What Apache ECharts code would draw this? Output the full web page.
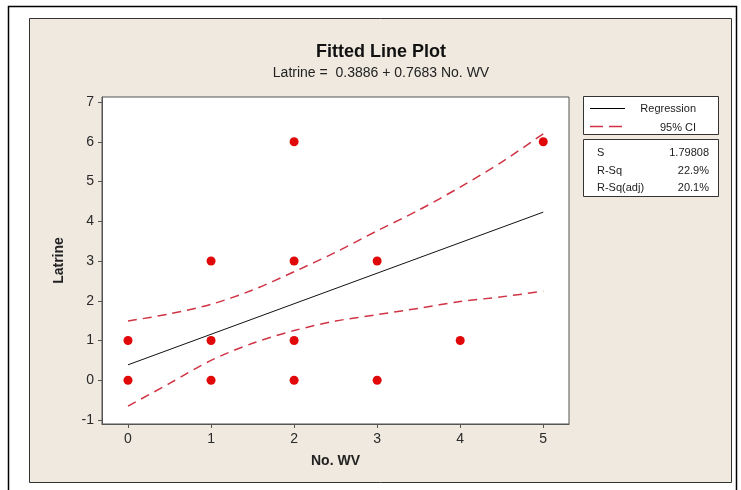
<!DOCTYPE html>
<html>
<head>
<meta charset="utf-8">
<script src="https://cdn.jsdelivr.net/npm/echarts@6/dist/echarts.min.js"></script>
<style>
html,body{margin:0;padding:0;background:#fff;}
#chart{width:741px;height:490px;}
</style>
</head>
<body>
<div id="chart"></div>
<script>
// ---- data ----
const pointsX = [0, 0, 1, 1, 1, 2, 2, 2, 2, 3, 3, 4, 5];
const pointsY = [0, 1, 0, 1, 3, 0, 1, 3, 6, 0, 3, 1, 6];
const fitX = [0, 5];
const fitY = [0.3886, 4.23];
const ciX = [0, 0.5, 1, 1.5, 2, 2.5, 3, 3.5, 4, 4.5, 5];
const ciUpper = [1.49, 1.67, 1.91, 2.27, 2.73, 3.22, 3.76, 4.28, 4.86, 5.49, 6.20];
const ciLower = [-0.65, -0.08, 0.50, 0.93, 1.25, 1.49, 1.65, 1.81, 1.98, 2.10, 2.24];
const xTicks = [0, 1, 2, 3, 4, 5];
const yTicks = [-1, 0, 1, 2, 3, 4, 5, 6, 7];
const legendNames = ['Regression', '95% CI'];
const statLabels = ['S', 'R-Sq', 'R-Sq(adj)'];
const statValues = ['1.79808', '22.9%', '20.1%'];
const titleText = 'Fitted Line Plot';
const subtitleText = 'Latrine =  0.3886 + 0.7683 No. WV';

const FONT = 'Liberation Sans, Arial, sans-serif';
const RED = '#e00808';
const CI_RED = '#cf3344';

const chart = echarts.init(document.getElementById('chart'), null, {renderer: 'canvas'});

const zip = (a, b) => a.map((v, i) => [v, b[i]]);

const graphics = [
  // outer frame
  {type: 'rect', shape: {x: 8.5, y: 6.5, width: 728, height: 500}, style: {fill: '#fff', stroke: '#000', lineWidth: 1.5}, z: -10, silent: true},
  // beige panel
  {type: 'rect', shape: {x: 29.5, y: 18.5, width: 702, height: 464}, style: {fill: '#efe9e0', stroke: '#333', lineWidth: 1}, z: -9, silent: true},
  // title
  {type: 'text', x: 381, y: 52, style: {text: titleText, font: 'bold 18px ' + FONT, fill: '#111', align: 'center', verticalAlign: 'middle'}, z: 5},
  {type: 'text', x: 381, y: 73, style: {text: subtitleText, font: '14px ' + FONT, fill: '#222', align: 'center', verticalAlign: 'middle'}, z: 5},
  // legend box
  {type: 'rect', shape: {x: 583.5, y: 96.5, width: 135, height: 38}, style: {fill: '#fff', stroke: '#333', lineWidth: 1}, z: 5},
  {type: 'line', shape: {x1: 590, y1: 108.5, x2: 625, y2: 108.5}, style: {stroke: '#000', lineWidth: 1}, z: 6},
  {type: 'line', shape: {x1: 590, y1: 126.5, x2: 622, y2: 126.5}, style: {stroke: CI_RED, lineWidth: 1.5, lineDash: [13, 6]}, z: 6},
  {type: 'text', x: 696, y: 109, style: {text: legendNames[0], font: '11px ' + FONT, fill: '#222', align: 'right', verticalAlign: 'middle'}, z: 6},
  {type: 'text', x: 696, y: 127.5, style: {text: legendNames[1], font: '11px ' + FONT, fill: '#222', align: 'right', verticalAlign: 'middle'}, z: 6},
  // stats box
  {type: 'rect', shape: {x: 583.5, y: 139.5, width: 135, height: 57}, style: {fill: '#fff', stroke: '#333', lineWidth: 1}, z: 5}
];
const statYs = [152.5, 170.5, 187.5];
statLabels.forEach((lab, i) => {
  graphics.push({type: 'text', x: 597, y: statYs[i], style: {text: lab, font: '11px ' + FONT, fill: '#222', align: 'left', verticalAlign: 'middle'}, z: 6});
  graphics.push({type: 'text', x: 709, y: statYs[i], style: {text: statValues[i], font: '11px ' + FONT, fill: '#222', align: 'right', verticalAlign: 'middle'}, z: 6});
});

const option = {
  animation: false,
  backgroundColor: 'transparent',
  grid: {left: 102, top: 97, width: 467, height: 327, show: true, backgroundColor: '#fff', borderColor: '#555', borderWidth: 1, z: 0},
  xAxis: {
    type: 'value', min: -0.313, max: 5.31,
    name: 'No. WV', nameLocation: 'middle', nameGap: 30,
    nameTextStyle: {fontFamily: FONT, fontWeight: 'bold', fontSize: 14, color: '#222'},
    axisLine: {show: true, onZero: false, lineStyle: {color: '#555', width: 1}},
    axisTick: {show: true, length: 4, lineStyle: {color: '#555'}, customValues: xTicks},
    axisLabel: {customValues: xTicks, fontFamily: FONT, fontSize: 14, color: '#2a2a2a', margin: 8},
    splitLine: {show: false}
  },
  yAxis: {
    type: 'value', min: -1.1, max: 7.126,
    name: 'Latrine', nameLocation: 'middle', nameGap: 36, nameRotate: 90,
    nameTextStyle: {fontFamily: FONT, fontWeight: 'bold', fontSize: 14, color: '#222'},
    axisLine: {show: true, onZero: false, lineStyle: {color: '#555', width: 1}},
    axisTick: {show: true, length: 4, lineStyle: {color: '#555'}, customValues: yTicks},
    axisLabel: {customValues: yTicks, fontFamily: FONT, fontSize: 14, color: '#2a2a2a', margin: 8},
    splitLine: {show: false}
  },
  series: [
    {name: '95% CI upper', type: 'line', data: zip(ciX, ciUpper), smooth: 0.3, symbol: 'none',
     lineStyle: {color: CI_RED, width: 1.5, type: [9, 6]}, z: 3, silent: true},
    {name: '95% CI lower', type: 'line', data: zip(ciX, ciLower), smooth: 0.3, symbol: 'none',
     lineStyle: {color: CI_RED, width: 1.5, type: [9, 6]}, z: 3, silent: true},
    {name: 'Regression', type: 'line', data: zip(fitX, fitY), symbol: 'none',
     lineStyle: {color: '#111', width: 1}, z: 4, silent: true},
    {name: 'Data', type: 'scatter', data: zip(pointsX, pointsY), symbol: 'circle', symbolSize: 9,
     itemStyle: {color: RED, opacity: 1}, z: 5, silent: true}
  ],
  graphic: graphics
};
chart.setOption(option);
</script>
</body>
</html>
